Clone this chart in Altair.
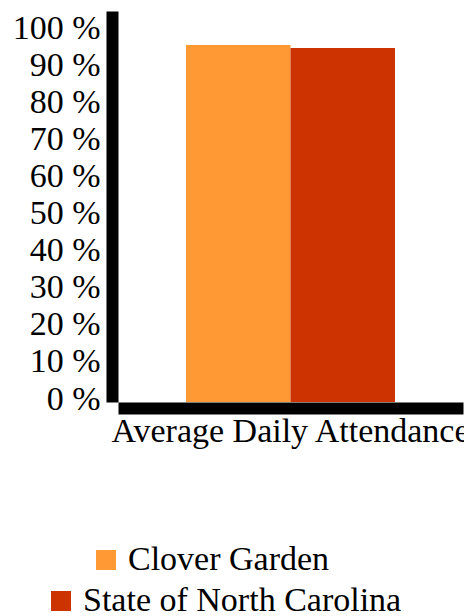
import altair as alt
import pandas as pd

categories = ["Average Daily Attendance"]
series = ["Clover Garden", "State of North Carolina"]
values = [96.3, 95.5]
colors = ["#FF9933", "#CC3300"]
y_ticks = [0, 10, 20, 30, 40, 50, 60, 70, 80, 90, 100]

df = pd.DataFrame({
    "category": [categories[0]] * len(series),
    "series": series,
    "value": values,
})

FONT = "Liberation Serif"
FS = 34

x_enc = alt.X(
    "category:N",
    title=None,
    scale=alt.Scale(paddingInner=0, paddingOuter=0.3254),
    axis=alt.Axis(
        labelAngle=0, ticks=False, domainWidth=12, domainColor="black",
        offset=6, labelPadding=6, labelFont=FONT, labelFontSize=FS,
        labelColor="black", grid=False, labelLimit=0,
    ),
)
xo_enc = alt.XOffset("series:N", scale=alt.Scale(domain=series, paddingInner=0, paddingOuter=0))
y_enc = alt.Y(
    "value:Q",
    title=None,
    scale=alt.Scale(domain=[0, 105.5], nice=False),
    axis=alt.Axis(
        values=y_ticks, labelExpr="datum.value + ' %'", ticks=False,
        domainWidth=12, domainColor="black", offset=6, labelPadding=12,
        labelOffset=-3, labelFont=FONT, labelFontSize=FS, labelColor="black",
        grid=False,
    ),
)

def legend_for(x, y):
    return alt.Legend(
        orient="none", legendX=x, legendY=y, title=None, padding=0,
        symbolType="square", symbolSize=400, symbolStrokeWidth=0,
        labelFont=FONT, labelFontSize=FS, labelColor="black",
        labelOffset=5, labelLimit=0,
    )

base = alt.Chart(df).mark_bar()

layer1 = base.transform_filter(alt.datum.series == series[0]).encode(
    x=x_enc, xOffset=xo_enc, y=y_enc,
    color=alt.Color("series:N", scale=alt.Scale(domain=[series[0]], range=[colors[0]]),
                    legend=legend_for(-29, 532)),
)
layer2 = base.transform_filter(alt.datum.series == series[1]).encode(
    x=x_enc, xOffset=xo_enc, y=y_enc,
    color=alt.Color("series:N", scale=alt.Scale(domain=[series[1]], range=[colors[1]]),
                    legend=legend_for(-74, 573)),
)

chart = alt.layer(layer1, layer2).resolve_scale(color="independent").properties(
    width=345, height=391,
    autosize=alt.AutoSizeParams(type="none"),
    padding={"left": 110, "top": 3, "right": 1, "bottom": 240},
).configure_view(stroke=None)

chart.save("out.html", embed_options={"renderer": "svg", "actions": False})
